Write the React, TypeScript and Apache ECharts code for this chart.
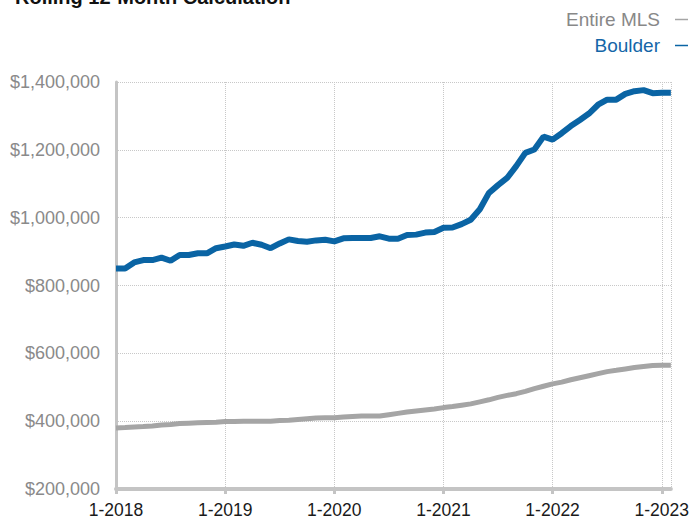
import React, { useEffect, useRef } from "react";
import * as echarts from "echarts";

const years = [2018, 2019, 2020, 2021, 2022, 2023];
const months = [1, 2, 3, 4, 5, 6, 7, 8, 9, 10, 11, 12];
const categories: string[] = [];
years.forEach((y) => months.forEach((m) => categories.push(`${m}-${y}`)));
categories.length = 62; // Jan 2018 .. Feb 2023

const boulder = [
  850000, 850000, 868000, 875000, 875000, 882000, 873000, 890000, 890000, 895000, 895000, 910000,
  915000, 921000, 917000, 926000, 920000, 910000, 924000, 936000, 931000, 929000, 933000, 935000,
  930000, 939000, 940000, 940000, 940000, 945000, 938000, 938000, 949000, 950000, 956000, 958000,
  970000, 971000, 981000, 994000, 1025000, 1073000, 1096000, 1117000, 1152000, 1191000, 1201000, 1239000,
  1230000, 1249000, 1270000, 1288000, 1307000, 1333000, 1348000, 1348000, 1365000, 1373000, 1376000, 1367000,
  1368000, 1368000,
];

const entireMLS = [
  380000, 381000, 383000, 384000, 386000, 389000, 390000, 393000, 394000, 395000, 396000, 397000,
  399000, 399000, 400000, 400000, 400000, 400000, 402000, 403000, 405000, 407000, 409000, 410000,
  410000, 412000, 414000, 415000, 415000, 415000, 419000, 423000, 427000, 430000, 433000, 436000,
  440000, 443000, 447000, 451000, 457000, 463000, 470000, 476000, 481000, 488000, 496000, 503000,
  510000, 515000, 522000, 528000, 534000, 540000, 546000, 550000, 554000, 558000, 561000, 564000,
  565000, 565000,
];

const yTicks = { min: 200000, max: 1400000, interval: 200000 };

const FONT = "'Liberation Sans', Arial, Helvetica, sans-serif";
const BLUE = "#0a64a4";
const GRAY = "#a5a5a5";

export default function App() {
  const ref = useRef<HTMLDivElement>(null);
  useEffect(() => {
    if (!ref.current) return;
    const chart = echarts.init(ref.current, null, { renderer: "svg" });
    const janOnly = (idx: number) => idx % 12 === 0;
    const legendBase = {
      align: "right",
      icon: "rect",
      itemWidth: 13,
      itemHeight: 1.5,
      right: 4,
      padding: 0,
      selectedMode: false,
    };
    chart.setOption({
      animation: false,
      textStyle: { fontFamily: FONT },
      title: {
        text: "Rolling 12-Month Calculation",
        left: 10,
        top: -18,
        padding: 5,
        textStyle: { fontSize: 20, fontWeight: "bold", color: "#111", fontFamily: FONT },
      },
      legend: [
        {
          ...legendBase,
          data: ["Entire MLS"],
          top: 10,
          textStyle: { fontSize: 19, color: "#888888", fontFamily: FONT, padding: [0, 10, 0, 0] },
        },
        {
          ...legendBase,
          data: ["Boulder"],
          top: 36,
          textStyle: { fontSize: 19, color: "#1466a8", fontFamily: FONT, padding: [0, 10, 0, 0] },
        },
      ],
      grid: { left: 116, right: 20, top: 82, bottom: 32, containLabel: false },
      xAxis: {
        type: "category",
        data: categories,
        boundaryGap: false,
        axisLine: { lineStyle: { color: "#c4c4c4", width: 4 } },
        axisTick: {
          interval: janOnly,
          length: 5,
          lineStyle: { color: "#c4c4c4", width: 3 },
        },
        axisLabel: {
          interval: janOnly,
          color: "#1a1a1a",
          fontSize: 17.5,
          margin: 12,
          fontFamily: FONT,
        },
        splitLine: {
          show: true,
          interval: (idx: number) => idx % 12 === 0 || idx === categories.length - 1,
          lineStyle: { color: "#c8c8c8", type: "dotted", width: 1 },
        },
      },
      yAxis: {
        type: "value",
        min: yTicks.min,
        max: yTicks.max,
        interval: yTicks.interval,
        axisLine: { show: true, lineStyle: { color: "#c4c4c4", width: 3 } },
        axisTick: { show: false },
        axisLabel: {
          color: "#8a8a8a",
          fontSize: 18,
          margin: 16,
          fontFamily: FONT,
          formatter: (v: number) => "$" + v.toLocaleString("en-US"),
        },
        splitLine: { lineStyle: { color: "#c8c8c8", type: "dotted", width: 1 } },
      },
      series: [
        {
          name: "Entire MLS",
          type: "line",
          data: entireMLS,
          showSymbol: false,
          lineStyle: { color: GRAY, width: 5 },
          itemStyle: { color: GRAY },
          z: 2,
        },
        {
          name: "Boulder",
          type: "line",
          data: boulder,
          showSymbol: false,
          lineStyle: { color: BLUE, width: 6 },
          itemStyle: { color: BLUE },
          z: 3,
        },
      ],
    });
    return () => chart.dispose();
  }, []);
  return <div ref={ref} style={{ width: 692, height: 521, position: "absolute", left: 0, top: 0 }} />;
}
